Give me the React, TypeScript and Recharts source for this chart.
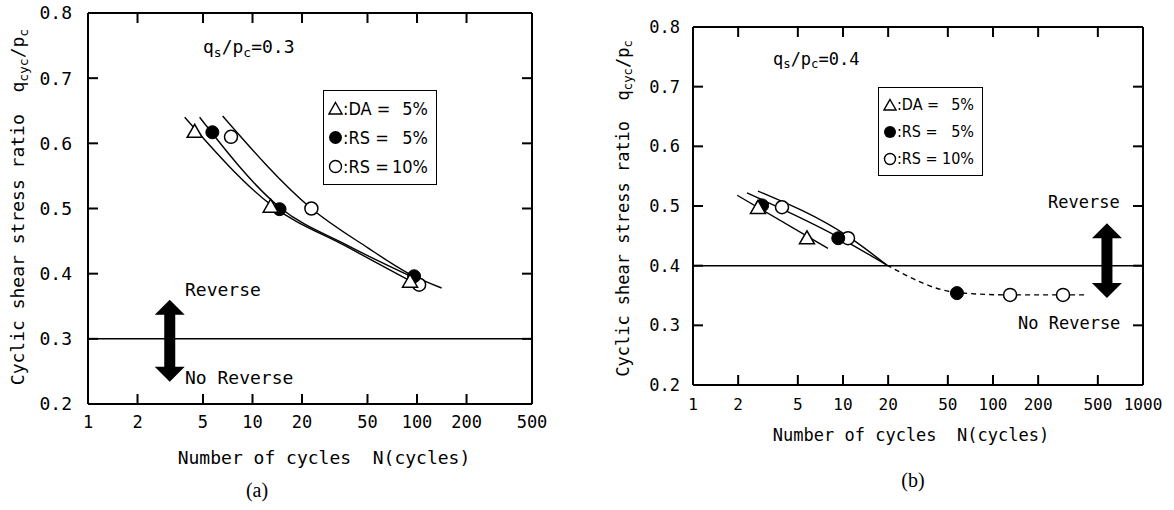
import { ComposedChart, Line, Scatter, XAxis, YAxis, ReferenceLine, Legend } from 'recharts';

const MONO = '"DejaVu Sans Mono", "Liberation Mono", monospace';
const NARROW = '"DejaVu Sans Condensed", "Liberation Sans Narrow", "DejaVu Sans", sans-serif';
const SERIF = '"Liberation Serif", "DejaVu Serif", serif';

// axis ticks
const Q_TICKS = [0.2, 0.3, 0.4, 0.5, 0.6, 0.7, 0.8];
const N_TICKS_A = [1, 2, 5, 10, 20, 50, 100, 200, 500];
const N_TICKS_B = [1, 2, 5, 10, 20, 50, 100, 200, 500, 1000];

// (a) qs/pc = 0.3 -- measured points
const daA = [{ n: 4.45, q: 0.617 }, { n: 12.9, q: 0.502 }, { n: 90.7, q: 0.387 }];
const rs5A = [{ n: 5.7, q: 0.617 }, { n: 14.6, q: 0.499 }, { n: 96, q: 0.396 }];
const rs10A = [{ n: 7.4, q: 0.61 }, { n: 22.8, q: 0.5 }, { n: 103, q: 0.383 }];
// (a) hand drawn fit curves
const daCurveA = [{ n: 3.87, q: 0.64 }, { n: 13.2, q: 0.504 }, { n: 37.7, q: 0.441 }, { n: 92, q: 0.388 }];
const rs5CurveA = [{ n: 4.77, q: 0.64 }, { n: 14.6, q: 0.502 }, { n: 38, q: 0.443 }, { n: 97, q: 0.393 }];
const rs10CurveA = [{ n: 6.58, q: 0.642 }, { n: 22.8, q: 0.5 }, { n: 50, q: 0.44 }, { n: 88, q: 0.401 }, { n: 141, q: 0.378 }];

// (b) qs/pc = 0.4 -- measured points
const daB = [{ n: 2.71, q: 0.496 }, { n: 5.75, q: 0.445 }];
const rs5B = [{ n: 2.89, q: 0.501 }, { n: 9.3, q: 0.446 }, { n: 57.5, q: 0.354 }];
const rs10B = [{ n: 3.92, q: 0.498 }, { n: 10.8, q: 0.446 }, { n: 130, q: 0.351 }, { n: 293, q: 0.351 }];
// (b) fit lines
const daCurveB = [{ n: 1.97, q: 0.518 }, { n: 7.94, q: 0.429 }];
const rs5CurveB = [{ n: 2.29, q: 0.522 }, { n: 9.3, q: 0.448 }, { n: 19.6, q: 0.401 }];
const rs10CurveB = [{ n: 2.71, q: 0.525 }, { n: 10.8, q: 0.449 }, { n: 19.6, q: 0.401 }];
const tailCurveB = [{ n: 19.6, q: 0.401 }, { n: 57.5, q: 0.355 }, { n: 130, q: 0.351 }, { n: 293, q: 0.351 }, { n: 420, q: 0.351 }];

const LEGEND_ROWS = [
  { key: 'da', label: 'DA', value: '5%' },
  { key: 'rs5', label: 'RS', value: '5%' },
  { key: 'rs10', label: 'RS', value: '10%' },
];

const Triangle = (p: any) => {
  const { cx, cy } = p;
  return <polygon points={`${cx},${cy - 8} ${cx - 7.5},${cy + 5} ${cx + 7.5},${cy + 5}`} fill="#fff" stroke="#000" strokeWidth={1.5} />;
};
const FilledDot = (p: any) => <circle cx={p.cx} cy={p.cy} r={6.5} fill="#000" stroke="#000" />;
const OpenDot = (p: any) => <circle cx={p.cx} cy={p.cy} r={6.5} fill="#fff" stroke="#000" strokeWidth={1.5} />;

const DoubleArrow = (p: any) => {
  const x = p.x1;
  const top = Math.min(p.y1, p.y2);
  const bot = Math.max(p.y1, p.y2);
  const hw = 15, sw = 5.5, hh = 15;
  const pts = [
    [x, top], [x + hw, top + hh], [x + sw, top + hh], [x + sw, bot - hh], [x + hw, bot - hh],
    [x, bot], [x - hw, bot - hh], [x - sw, bot - hh], [x - sw, top + hh], [x - hw, top + hh],
  ].map((d) => d.join(',')).join(' ');
  return <polygon points={pts} fill="#000" />;
};

// inward tick marks (+ optional label); m = tickMargin given to the axis
const TL = 10;
const makeTick = (side: string, m: number, fontSize = 0) => (p: any) => {
  const { x, y, payload } = p;
  let ln: any;
  let label: any = null;
  const ts = { fontFamily: MONO, fontSize, fill: '#000' };
  if (side === 'bottom') {
    ln = { x1: x, x2: x, y1: y - m, y2: y - m - TL };
    label = <text x={x} y={y} dy="0.71em" textAnchor="middle" style={ts}>{payload.value}</text>;
  } else if (side === 'left') {
    ln = { x1: x + m, x2: x + m + TL, y1: y, y2: y };
    label = <text x={x} y={y} dy="0.355em" textAnchor="end" style={ts}>{Number(payload.value).toFixed(1)}</text>;
  } else if (side === 'top') {
    ln = { x1: x, x2: x, y1: y + m, y2: y + m + TL };
  } else {
    ln = { x1: x - m, x2: x - m - TL, y1: y, y2: y };
  }
  return (
    <g>
      <line {...ln} stroke="#000" strokeWidth={2} />
      {fontSize > 0 && label}
    </g>
  );
};

function symbolFor(key: string, s: number) {
  if (key === 'da') return <polygon points={`${s / 2},1.5 ${s - 1},${s - 2} 1,${s - 2}`} fill="#fff" stroke="#000" strokeWidth={1.4} />;
  if (key === 'rs5') return <circle cx={s / 2} cy={s / 2} r={s / 2 - 1} fill="#000" />;
  return <circle cx={s / 2} cy={s / 2} r={s / 2 - 1.5} fill="#fff" stroke="#000" strokeWidth={1.4} />;
}

const LegendBox = ({ fontSize, rowH, sym }: { fontSize: number; rowH: number; sym: number }) => (
  <div style={{ border: '1.5px solid #000', background: '#fff', padding: '3px 8px 3px 4px', boxSizing: 'border-box', fontFamily: NARROW, fontSize, color: '#000' }}>
    {LEGEND_ROWS.map((r) => (
      <div key={r.key} style={{ display: 'flex', alignItems: 'center', height: rowH }}>
        <svg width={sym} height={sym} style={{ flex: 'none' }}>{symbolFor(r.key, sym)}</svg>
        <span>:{r.label} =</span>
        <span style={{ marginLeft: 'auto' }}>{r.value}</span>
      </div>
    ))}
  </div>
);

const Label = ({ x, y, size, children, center = false, family = MONO }: any) => (
  <div style={{
    position: 'absolute', left: x, top: y, fontFamily: family, fontSize: size, lineHeight: `${size}px`,
    whiteSpace: 'pre', color: '#000', transform: `translate(${center ? '-50%' : '0'}, -50%)`,
  }}>{children}</div>
);

const sub = (t: string) => <span style={{ fontSize: '0.72em', verticalAlign: '-0.3em' }}>{t}</span>;

const YTitle = ({ x, y, size }: { x: number; y: number; size: number }) => (
  <div style={{
    position: 'absolute', left: x - 220, top: y - size / 2, width: 440, height: size, lineHeight: `${size}px`,
    textAlign: 'center', fontFamily: MONO, fontSize: size, whiteSpace: 'pre', transform: 'rotate(-90deg)', color: '#000',
  }}>
    Cyclic shear stress ratio  q{sub('cyc')}/p{sub('c')}
  </div>
);

const axisLine = { stroke: '#000', strokeWidth: 2 };

function Panel(props: any) {
  const { width, margin, domain, ticks, tickFont, xMargin, yMargin, refQ, arrow, legendPos, legend, children } = props;
  return (
    <ComposedChart width={width} height={510} margin={margin}>
      <XAxis dataKey="n" type="number" scale="log" domain={domain} ticks={ticks} allowDataOverflow height={30}
        axisLine={axisLine} tickLine={false} tickSize={0} tickMargin={xMargin} tick={makeTick('bottom', xMargin, tickFont)} interval={0} />
      <XAxis xAxisId="top" orientation="top" dataKey="n" type="number" scale="log" domain={domain} ticks={ticks} allowDataOverflow height={5}
        axisLine={axisLine} tickLine={false} tickSize={0} tickMargin={0} tick={makeTick('top', 0)} interval={0} />
      <YAxis dataKey="q" type="number" domain={[0.2, 0.8]} ticks={Q_TICKS} allowDataOverflow width={60}
        axisLine={axisLine} tickLine={false} tickSize={0} tickMargin={yMargin} tick={makeTick('left', yMargin, tickFont + 1)} interval={0} />
      <YAxis yAxisId="right" orientation="right" type="number" domain={[0.2, 0.8]} ticks={Q_TICKS} allowDataOverflow width={8}
        axisLine={axisLine} tickLine={false} tickSize={0} tickMargin={0} tick={makeTick('right', 0)} interval={0} />
      <ReferenceLine y={refQ} stroke="#000" strokeWidth={1.5} />
      <ReferenceLine segment={arrow} shape={DoubleArrow} />
      {children}
      <Legend layout="vertical" align="center" verticalAlign="middle" wrapperStyle={legendPos}
        content={() => <LegendBox {...legend} />} />
    </ComposedChart>
  );
}

const lineProps = { dataKey: 'q', type: 'monotone' as const, stroke: '#000', strokeWidth: 1.4, dot: false, isAnimationActive: false, legendType: 'none' as const };

export default function App() {
  return (
    <div style={{ position: 'absolute', left: 0, top: 0, width: 1174, height: 510, background: '#fff', overflow: 'hidden' }}>
      <div style={{ position: 'absolute', left: 0, top: 0 }}>
        <Panel width={560} margin={{ top: 8, right: 20, bottom: 76, left: 28 }} domain={[1, 500]} ticks={N_TICKS_A}
          tickFont={17} xMargin={12} yMargin={16} refQ={0.3}
          arrow={[{ x: 3.14, y: 0.36 }, { x: 3.14, y: 0.234 }]}
          legendPos={{ left: 323, top: 90, width: 114 }} legend={{ fontSize: 18, rowH: 29, sym: 15 }}>
          <Line data={daCurveA} {...lineProps} />
          <Line data={rs5CurveA} {...lineProps} />
          <Line data={rs10CurveA} {...lineProps} />
          <Scatter data={rs10A} dataKey="q" shape={OpenDot} isAnimationActive={false} legendType="none" />
          <Scatter data={rs5A} dataKey="q" shape={FilledDot} isAnimationActive={false} legendType="none" />
          <Scatter data={daA} dataKey="q" shape={Triangle} isAnimationActive={false} legendType="none" />
        </Panel>
      </div>
      <div style={{ position: 'absolute', left: 600, top: 0 }}>
        <Panel width={574} margin={{ top: 22, right: 23, bottom: 95, left: 33 }} domain={[1, 1000]} ticks={N_TICKS_B}
          tickFont={16} xMargin={14} yMargin={13} refQ={0.4}
          arrow={[{ x: 575, y: 0.471 }, { x: 575, y: 0.346 }]}
          legendPos={{ left: 278, top: 87, width: 105 }} legend={{ fontSize: 16, rowH: 27, sym: 14 }}>
          <Line data={daCurveB} {...lineProps} />
          <Line data={rs5CurveB} {...lineProps} />
          <Line data={rs10CurveB} {...lineProps} />
          <Line data={tailCurveB} {...lineProps} strokeDasharray="5 4" />
          <Scatter data={rs10B} dataKey="q" shape={OpenDot} isAnimationActive={false} legendType="none" />
          <Scatter data={rs5B} dataKey="q" shape={FilledDot} isAnimationActive={false} legendType="none" />
          <Scatter data={daB} dataKey="q" shape={Triangle} isAnimationActive={false} legendType="none" />
        </Panel>
      </div>

      <YTitle x={18} y={207} size={18} />
      <Label x={203} y={50} size={18}>q{sub('s')}/p{sub('c')}=0.3</Label>
      <Label x={185} y={290} size={18}>Reverse</Label>
      <Label x={185} y={378} size={18}>No Reverse</Label>
      <Label x={324} y={458} size={18} center>Number of cycles  N(cycles)</Label>
      <Label x={257} y={490} size={20} center family={SERIF}>(a)</Label>

      <YTitle x={623} y={208} size={17} />
      <Label x={773} y={62} size={17}>q{sub('s')}/p{sub('c')}=0.4</Label>
      <Label x={1048} y={202} size={17}>Reverse</Label>
      <Label x={1018} y={323} size={17}>No Reverse</Label>
      <Label x={911} y={435} size={17} center>Number of cycles  N(cycles)</Label>
      <Label x={913} y={480} size={20} center family={SERIF}>(b)</Label>
    </div>
  );
}
